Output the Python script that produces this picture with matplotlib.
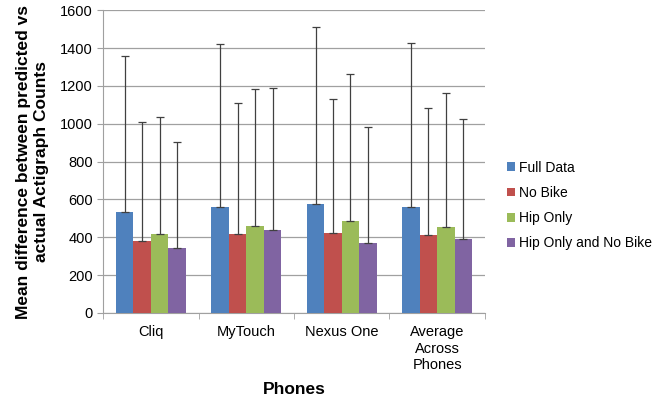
import matplotlib
matplotlib.use("Agg")
import matplotlib.pyplot as plt
import numpy as np

plt.rcParams['font.family'] = ['Liberation Sans', 'DejaVu Sans']

categories = ["Cliq", "MyTouch", "Nexus One", "Average\nAcross\nPhones"]
series_names = ["Full Data", "No Bike", "Hip Only", "Hip Only and No Bike"]
full_data = [535, 562, 578, 558]
no_bike = [380, 418, 420, 410]
hip_only = [418, 457, 485, 455]
hip_no_bike = [342, 436, 370, 390]
full_err = [825, 858, 935, 870]
no_bike_err = [628, 692, 712, 675]
hip_only_err = [619, 728, 777, 708]
hip_no_bike_err = [560, 751, 615, 636]
colors = ["#4F81BD", "#C0504D", "#9BBB59", "#8064A2"]

values = [full_data, no_bike, hip_only, hip_no_bike]
errors = [full_err, no_bike_err, hip_only_err, hip_no_bike_err]

fig = plt.figure(figsize=(6.66, 4.08), dpi=100)
ax = fig.add_axes([0.155, 0.233, 0.573, 0.742])

x = np.arange(len(categories))
w = 0.183
for i, (vals, errs, c, name) in enumerate(zip(values, errors, colors, series_names)):
    pos = x + (i - 1.5) * w
    ax.bar(pos, vals, width=w, color=c, label=name, zorder=3)
    ax.errorbar(pos, vals, yerr=[np.zeros(len(errs)), errs], fmt='none',
                ecolor='#404040', elinewidth=0.9, capsize=3, capthick=0.9, zorder=4)

ax.set_xlim(-0.5, len(categories) - 0.5)
ax.set_ylim(0, 1600)
ax.set_yticks(np.arange(0, 1601, 200))
ax.yaxis.grid(True, color='#A0A0A0', linewidth=0.9, zorder=0)
ax.set_axisbelow(True)
ax.set_xticks(x)
ax.set_xticklabels(categories, fontsize=10.5)
ax.tick_params(axis='x', length=0, pad=9)
ax.set_xticks(np.arange(-0.5, len(categories), 1), minor=True)
ax.tick_params(axis='x', which='minor', length=4, color='#A0A0A0', direction='out')
ax.tick_params(axis='y', labelsize=10.5, length=4, color='#A0A0A0', direction='out')

for side in ['top', 'right']:
    ax.spines[side].set_visible(False)
ax.spines['left'].set_color('#A0A0A0')
ax.spines['bottom'].set_color('#A0A0A0')

ax.set_ylabel("Mean difference between predicted vs\nactual Actigraph Counts",
              fontsize=12.5, fontweight='bold', labelpad=8)
ax.set_xlabel("Phones", fontsize=12.5, fontweight='bold', labelpad=7)

leg = ax.legend(loc='center left', bbox_to_anchor=(1.025, 0.355), frameon=False,
                fontsize=10, handlelength=0.6, handleheight=0.6, handletextpad=0.3,
                labelspacing=0.8)

fig.savefig("out.png", dpi=100)
